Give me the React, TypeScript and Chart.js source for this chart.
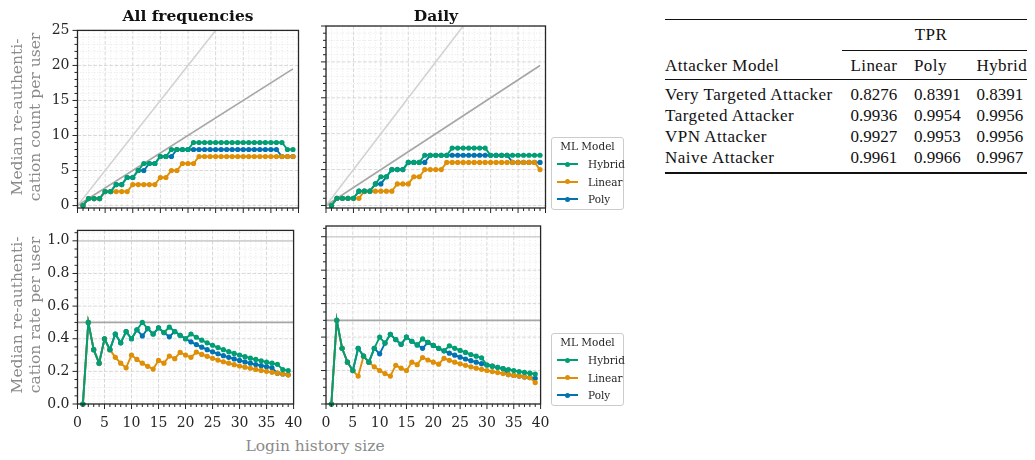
import React, { useEffect, useRef } from 'react';
import { Chart, registerables } from 'chart.js';

Chart.register(...registerables);

// ---------------- data ----------------
const loginSizes = [1, 2, 3, 4, 5, 6, 7, 8, 9, 10, 11, 12, 13, 14, 15, 16, 17, 18, 19, 20, 21, 22, 23, 24, 25, 26, 27, 28, 29, 30, 31, 32, 33, 34, 35, 36, 37, 38, 39];

// All frequencies — median re-authentication count per user
const allCountHybrid = [0, 1, 1, 1, 2, 2, 3, 3, 4, 4, 5, 6, 6, 6, 7, 7, 8, 8, 8, 8, 9, 9, 9, 9, 9, 9, 9, 9, 9, 9, 9, 9, 9, 9, 9, 9, 9, 8, 8];
const allCountLinear = [0, 1, 1, 1, 2, 2, 2, 2, 2, 3, 3, 3, 3, 3, 4, 4, 5, 5, 6, 6, 6, 7, 7, 7, 7, 7, 7, 7, 7, 7, 7, 7, 7, 7, 7, 7, 7, 7, 7];
const allCountPoly = [0, 1, 1, 1, 2, 2, 3, 3, 4, 4, 5, 5, 6, 6, 7, 7, 7, 8, 8, 8, 8, 8, 8, 8, 8, 8, 8, 8, 8, 8, 8, 8, 8, 8, 8, 8, 7, 7, 7];

// Daily — median re-authentication count per user
const dailyCountHybrid = [0, 1, 1, 1, 1, 2, 2, 2, 3, 4, 4, 5, 5, 5, 6, 6, 6, 7, 7, 7, 7, 7, 8, 8, 8, 8, 8, 8, 8, 7, 7, 7, 7, 7, 7, 7, 7, 7, 7];
const dailyCountLinear = [0, 1, 1, 1, 1, 1, 2, 2, 2, 2, 2, 2, 3, 3, 3, 4, 4, 5, 5, 5, 5, 6, 6, 6, 6, 6, 6, 6, 6, 6, 6, 6, 6, 6, 6, 6, 6, 6, 5];
const dailyCountPoly = [0, 1, 1, 1, 1, 2, 2, 2, 3, 3, 4, 5, 5, 5, 6, 6, 6, 6, 7, 7, 7, 7, 7, 7, 7, 7, 7, 7, 7, 7, 7, 7, 7, 6, 6, 6, 6, 6, 6];

// All frequencies — median re-authentication rate per user
const allRateHybrid = [0, 0.5, 0.333, 0.25, 0.4, 0.333, 0.429, 0.375, 0.444, 0.4, 0.455, 0.5, 0.462, 0.429, 0.467, 0.438, 0.471, 0.444, 0.421, 0.4, 0.429, 0.409, 0.391, 0.375, 0.36, 0.346, 0.333, 0.321, 0.31, 0.3, 0.29, 0.281, 0.273, 0.265, 0.257, 0.25, 0.243, 0.211, 0.205];
const allRateLinear = [0, 0.5, 0.333, 0.25, 0.4, 0.333, 0.286, 0.25, 0.222, 0.3, 0.273, 0.25, 0.231, 0.214, 0.267, 0.25, 0.294, 0.278, 0.316, 0.3, 0.286, 0.318, 0.304, 0.292, 0.28, 0.269, 0.259, 0.25, 0.241, 0.233, 0.226, 0.219, 0.212, 0.206, 0.2, 0.194, 0.189, 0.184, 0.179];
const allRatePoly = [0, 0.5, 0.333, 0.25, 0.4, 0.333, 0.429, 0.375, 0.444, 0.4, 0.455, 0.417, 0.462, 0.429, 0.467, 0.438, 0.412, 0.444, 0.421, 0.4, 0.381, 0.364, 0.348, 0.333, 0.32, 0.308, 0.296, 0.286, 0.276, 0.267, 0.258, 0.25, 0.242, 0.235, 0.229, 0.222, 0.189, 0.184, 0.179];

// Daily — median re-authentication rate per user
const dailyRateHybrid = [0, 0.5, 0.333, 0.25, 0.2, 0.333, 0.286, 0.25, 0.333, 0.4, 0.364, 0.417, 0.385, 0.357, 0.4, 0.375, 0.353, 0.389, 0.368, 0.35, 0.333, 0.318, 0.348, 0.333, 0.32, 0.308, 0.296, 0.286, 0.276, 0.233, 0.226, 0.219, 0.212, 0.206, 0.2, 0.194, 0.189, 0.184, 0.179];
const dailyRateLinear = [0, 0.5, 0.333, 0.25, 0.2, 0.167, 0.286, 0.25, 0.222, 0.2, 0.182, 0.167, 0.231, 0.214, 0.2, 0.25, 0.235, 0.278, 0.263, 0.25, 0.238, 0.273, 0.261, 0.25, 0.24, 0.231, 0.222, 0.214, 0.207, 0.2, 0.194, 0.188, 0.182, 0.176, 0.171, 0.167, 0.162, 0.158, 0.128];
const dailyRatePoly = [0, 0.5, 0.333, 0.25, 0.2, 0.333, 0.286, 0.25, 0.333, 0.3, 0.364, 0.417, 0.385, 0.357, 0.4, 0.375, 0.353, 0.333, 0.368, 0.35, 0.333, 0.318, 0.304, 0.292, 0.28, 0.269, 0.259, 0.25, 0.241, 0.233, 0.226, 0.219, 0.212, 0.176, 0.171, 0.167, 0.162, 0.158, 0.154];

// reference lines
const refDiagX = [0, 39];
const refDiagOne = [0, 39];
const refDiagHalf = [0, 19.5];
const refFlatX = [0, 40];
const refRateOne = [1, 1];
const refRateHalf = [0.5, 0.5];

// ticks
const xTicks = [0, 5, 10, 15, 20, 25, 30, 35, 40];
const countTicks = [0, 5, 10, 15, 20, 25];
const rateTicks = [0, 0.2, 0.4, 0.6, 0.8, 1.0];

// legend
const legendTitle = 'ML Model';
const modelNames = ['Hybrid', 'Linear', 'Poly'];

// table
const tableGroupHeader = 'TPR';
const tableFirstHeader = 'Attacker Model';
const tableColumnHeads = ['Linear', 'Poly', 'Hybrid'];
const attackerModels = ['Very Targeted Attacker', 'Targeted Attacker', 'VPN Attacker', 'Naive Attacker'];
const tprLinear = [0.8276, 0.9936, 0.9927, 0.9961];
const tprPoly = [0.8391, 0.9954, 0.9953, 0.9966];
const tprHybrid = [0.8391, 0.9956, 0.9956, 0.9967];

// ---------------- style ----------------
const FONT = "'DejaVu Serif', serif";
const TABLE_FONT = "'Liberation Serif', 'Times New Roman', serif";
const INK = '#262626';
const LABEL_GRAY = '#8a8a8a';
const COLORS: Record<string, string> = { Hybrid: '#029e73', Linear: '#de8f05', Poly: '#0173b2' };
const ORDER: Record<string, number> = { Hybrid: 1, Linear: 2, Poly: 3 };

type Frame = { l: number; t: number; r: number; b: number };
type Ref = { xs: number[]; ys: number[]; color: string };
type Spec = {
  frame: Frame;
  yMin: number;
  yMax: number;
  yTicks: number[];
  yMinorStep: number;
  yMajorStep: number;
  yDecimals: number;
  showY: boolean;
  showX: boolean;
  values: Record<string, number[]>;
  refs: Ref[];
};

function makeAxesPlugin(spec: Spec) {
  const isMajor = (v: number, step: number) => Math.abs(v / step - Math.round(v / step)) < 1e-6;
  const xMinor: number[] = [];
  for (let i = 0; i <= 40; i++) if (!isMajor(i, 5)) xMinor.push(i);
  const yMinor: number[] = [];
  const n = Math.floor(spec.yMax / spec.yMinorStep + 1e-6);
  for (let i = 0; i <= n; i++) {
    const v = i * spec.yMinorStep;
    if (!isMajor(v, spec.yMajorStep)) yMinor.push(v);
  }
  return {
    id: 'mplAxes',
    beforeDatasetsDraw(chart: any) {
      const { ctx, chartArea: a } = chart;
      const xs = chart.scales.x;
      const ys = chart.scales.y;
      ctx.save();
      ctx.beginPath();
      ctx.rect(a.left, a.top, a.right - a.left, a.bottom - a.top);
      ctx.clip();
      const drawV = (v: number) => {
        const p = xs.getPixelForValue(v);
        ctx.beginPath();
        ctx.moveTo(p, a.top);
        ctx.lineTo(p, a.bottom);
        ctx.stroke();
      };
      const drawH = (v: number) => {
        const p = ys.getPixelForValue(v);
        ctx.beginPath();
        ctx.moveTo(a.left, p);
        ctx.lineTo(a.right, p);
        ctx.stroke();
      };
      ctx.lineWidth = 0.8;
      ctx.strokeStyle = '#e2e2e2';
      ctx.setLineDash([1, 1.8]);
      xMinor.forEach(drawV);
      yMinor.forEach(drawH);
      ctx.lineWidth = 1;
      ctx.strokeStyle = '#d8d8d8';
      ctx.setLineDash([3.7, 1.6]);
      xTicks.forEach(drawV);
      spec.yTicks.forEach(drawH);
      ctx.restore();
    },
    afterDraw(chart: any) {
      const { ctx, chartArea: a } = chart;
      const xs = chart.scales.x;
      const ys = chart.scales.y;
      ctx.save();
      ctx.strokeStyle = INK;
      ctx.lineWidth = 1;
      for (let i = 0; i <= 40; i++) {
        const p = xs.getPixelForValue(i);
        const len = isMajor(i, 5) ? 5 : 3;
        ctx.beginPath();
        ctx.moveTo(p, a.bottom);
        ctx.lineTo(p, a.bottom + len);
        ctx.stroke();
      }
      for (let i = 0; i <= n; i++) {
        const v = i * spec.yMinorStep;
        const p = ys.getPixelForValue(v);
        const len = isMajor(v, spec.yMajorStep) ? 5 : 3;
        ctx.beginPath();
        ctx.moveTo(a.left - len, p);
        ctx.lineTo(a.left, p);
        ctx.stroke();
      }
      ctx.lineWidth = 1.3;
      ctx.strokeRect(a.left, a.top, a.right - a.left, a.bottom - a.top);
      ctx.restore();
    },
  };
}

function Panel({ spec }: { spec: Spec }) {
  const ref = useRef<HTMLCanvasElement>(null);
  const { frame } = spec;
  const left = Math.floor(frame.l) - 50;
  const top = Math.floor(frame.t) - 12;
  const right = Math.ceil(frame.r) + 14;
  const bottom = Math.ceil(frame.b) + 32;
  const w = right - left;
  const h = bottom - top;

  useEffect(() => {
    const canvas = ref.current;
    if (!canvas) return;
    const yAxisW = frame.l - left;
    const xAxisH = bottom - frame.b;
    const datasets: any[] = [];
    modelNames.forEach((name) => {
      datasets.push({
        label: name,
        data: spec.values[name].map((v, i) => ({ x: loginSizes[i], y: v })),
        borderColor: COLORS[name],
        backgroundColor: COLORS[name],
        pointBackgroundColor: COLORS[name],
        pointBorderColor: COLORS[name],
        pointBorderWidth: 0,
        pointRadius: 2.6,
        pointHoverRadius: 2.6,
        borderWidth: 1.9,
        tension: 0,
        order: ORDER[name],
        clip: false,
      });
    });
    spec.refs.forEach((r, k) => {
      datasets.push({
        label: 'ref' + k,
        data: r.xs.map((x, i) => ({ x, y: r.ys[i] })),
        borderColor: r.color,
        backgroundColor: r.color,
        borderWidth: 1.6,
        pointRadius: 0,
        pointHoverRadius: 0,
        tension: 0,
        order: 10 + k,
      });
    });
    const chart = new Chart(canvas, {
      type: 'line',
      data: { datasets },
      options: {
        animation: false,
        responsive: false,
        maintainAspectRatio: false,
        events: [],
        layout: { padding: { left: 0, top: frame.t - top, right: right - frame.r, bottom: 0 } },
        plugins: { legend: { display: false }, tooltip: { enabled: false }, title: { display: false } },
        scales: {
          x: {
            type: 'linear',
            min: 0,
            max: 40,
            grid: { display: false, drawTicks: false },
            border: { display: false },
            afterBuildTicks: (s: any) => {
              s.ticks = xTicks.map((v) => ({ value: v }));
            },
            afterFit: (s: any) => {
              s.height = xAxisH;
            },
            ticks: {
              display: spec.showX,
              autoSkip: false,
              maxRotation: 0,
              minRotation: 0,
              padding: 10.5,
              color: INK,
              font: { family: FONT, size: 14 },
              callback: (v: any) => String(v),
            },
          },
          y: {
            type: 'linear',
            min: spec.yMin,
            max: spec.yMax,
            grid: { display: false, drawTicks: false },
            border: { display: false },
            afterBuildTicks: (s: any) => {
              s.ticks = spec.yTicks.map((v) => ({ value: v }));
            },
            afterFit: (s: any) => {
              s.width = yAxisW;
            },
            ticks: {
              display: spec.showY,
              autoSkip: false,
              padding: 8,
              color: INK,
              font: { family: FONT, size: 14 },
              callback: (v: any) => Number(v).toFixed(spec.yDecimals),
            },
          },
        },
      } as any,
      plugins: [makeAxesPlugin(spec)],
    });
    return () => chart.destroy();
  }, []);

  return (
    <canvas
      ref={ref}
      width={w}
      height={h}
      style={{ position: 'absolute', left, top, width: w, height: h }}
    />
  );
}

const topRefs: Ref[] = [
  { xs: refDiagX, ys: refDiagOne, color: '#d2d2d2' },
  { xs: refDiagX, ys: refDiagHalf, color: '#a6a6a6' },
];
const bottomRefs: Ref[] = [
  { xs: refFlatX, ys: refRateOne, color: '#d2d2d2' },
  { xs: refFlatX, ys: refRateHalf, color: '#a6a6a6' },
];

const countAxis = { yMin: -0.35, yMax: 25, yTicks: countTicks, yMinorStep: 1, yMajorStep: 5, yDecimals: 0 };
const rateAxis = { yMin: 0, yMax: 1.064, yTicks: rateTicks, yMinorStep: 0.05, yMajorStep: 0.2, yDecimals: 1 };

const specs: Spec[] = [
  {
    frame: { l: 77.5, t: 26, r: 298.5, b: 208 },
    ...countAxis,
    showY: true,
    showX: false,
    values: { Hybrid: allCountHybrid, Linear: allCountLinear, Poly: allCountPoly },
    refs: topRefs,
  },
  {
    frame: { l: 326, t: 26, r: 545.5, b: 208 },
    ...countAxis,
    showY: false,
    showX: false,
    values: { Hybrid: dailyCountHybrid, Linear: dailyCountLinear, Poly: dailyCountPoly },
    refs: topRefs,
  },
  {
    frame: { l: 77.5, t: 226, r: 298.5, b: 404 },
    ...rateAxis,
    showY: true,
    showX: true,
    values: { Hybrid: allRateHybrid, Linear: allRateLinear, Poly: allRatePoly },
    refs: bottomRefs,
  },
  {
    frame: { l: 326, t: 226, r: 545.5, b: 404 },
    ...rateAxis,
    showY: false,
    showX: true,
    values: { Hybrid: dailyRateHybrid, Linear: dailyRateLinear, Poly: dailyRatePoly },
    refs: bottomRefs,
  },
];

function Legend({ top }: { top: number }) {
  return (
    <div
      style={{
        position: 'absolute',
        left: 551,
        top,
        width: 73,
        height: 73,
        border: '1px solid #cccccc',
        borderRadius: 3,
        boxSizing: 'border-box',
        fontFamily: FONT,
        fontSize: 10.5,
        color: INK,
        background: '#fff',
      }}
    >
      <div style={{ position: 'absolute', left: 0, right: 0, top: 2, textAlign: 'center', lineHeight: '13px', whiteSpace: 'nowrap' }}>
        {legendTitle}
      </div>
      {modelNames.map((name, i) => {
        const cy = 26 + i * 17.7;
        return (
          <React.Fragment key={name}>
            <div style={{ position: 'absolute', left: 5, width: 21, top: cy - 1, height: 2, background: COLORS[name] }} />
            <div style={{ position: 'absolute', left: 13, width: 5, top: cy - 2.5, height: 5, borderRadius: '50%', background: COLORS[name] }} />
            <div style={{ position: 'absolute', left: 36, top: cy - 7, lineHeight: '14px', whiteSpace: 'nowrap' }}>{name}</div>
          </React.Fragment>
        );
      })}
    </div>
  );
}

const centered = (x: number, y: number, extra: React.CSSProperties = {}): React.CSSProperties => ({
  position: 'absolute',
  left: x,
  top: y,
  transform: 'translate(-50%, -50%)',
  whiteSpace: 'nowrap',
  ...extra,
});

function Table() {
  const rowY = [95, 116, 136.5, 157.5];
  const colX = [850.5, 914, 976.5];
  const cols = [tprLinear, tprPoly, tprHybrid];
  const cell = (x: number, y: number, text: string, key: string, spacing = 0) => (
    <div key={key} style={{ position: 'absolute', left: x, top: y - 10, lineHeight: '20px', whiteSpace: 'nowrap', letterSpacing: spacing }}>
      {text}
    </div>
  );
  const rule = (x1: number, x2: number, y: number, th: number, key: string) => (
    <div key={key} style={{ position: 'absolute', left: x1, width: x2 - x1, top: y - th / 2, height: th, background: '#111' }} />
  );
  return (
    <div style={{ position: 'absolute', left: 0, top: 0, fontFamily: TABLE_FONT, fontSize: 17, color: '#111' }}>
      {rule(665, 1027, 19.3, 1.4, 'r0')}
      <div style={centered(931, 34.5, { lineHeight: '20px', letterSpacing: 0.4 })}>{tableGroupHeader}</div>
      {rule(842, 1027, 50, 0.8, 'r1')}
      {cell(665, 65.5, tableFirstHeader, 'h0', 0.5)}
      {tableColumnHeads.map((c, i) => cell(colX[i], 65.5, c, 'h' + (i + 1), 0.4))}
      {rule(665, 1027, 79.5, 0.8, 'r2')}
      {attackerModels.map((m, r) => (
        <React.Fragment key={m}>
          {cell(665, rowY[r], m, 'm' + r, 0.5)}
          {cols.map((col, c) => cell(colX[c], rowY[r], col[r].toFixed(4), 'v' + r + c))}
        </React.Fragment>
      ))}
      {rule(665, 1027, 173, 1.4, 'r3')}
    </div>
  );
}

export default function App() {
  return (
    <div style={{ position: 'absolute', left: 0, top: 0, width: 1035, height: 460, background: '#fff', overflow: 'hidden' }}>
      {specs.map((s, i) => (
        <Panel key={i} spec={s} />
      ))}
      <div style={centered(188, 14.5, { fontFamily: FONT, fontWeight: 'bold', fontSize: 15.5, color: '#111' })}>All frequencies</div>
      <div style={centered(436, 14.5, { fontFamily: FONT, fontWeight: 'bold', fontSize: 15.5, color: '#111' })}>Daily</div>
      <div
        style={centered(25.5, 117, {
          fontFamily: FONT,
          fontSize: 15.5,
          lineHeight: '18px',
          color: LABEL_GRAY,
          textAlign: 'center',
          transform: 'translate(-50%, -50%) rotate(-90deg)',
        })}
      >
        Median re-authenti-
        <br />
        cation count per user
      </div>
      <div
        style={centered(25.5, 315, {
          fontFamily: FONT,
          fontSize: 15.5,
          lineHeight: '18px',
          color: LABEL_GRAY,
          textAlign: 'center',
          transform: 'translate(-50%, -50%) rotate(-90deg)',
        })}
      >
        Median re-authenti-
        <br />
        cation rate per user
      </div>
      <div style={centered(315, 446, { fontFamily: FONT, fontSize: 15.5, color: LABEL_GRAY })}>Login history size</div>
      <Legend top={137} />
      <Legend top={333} />
      <Table />
    </div>
  );
}
